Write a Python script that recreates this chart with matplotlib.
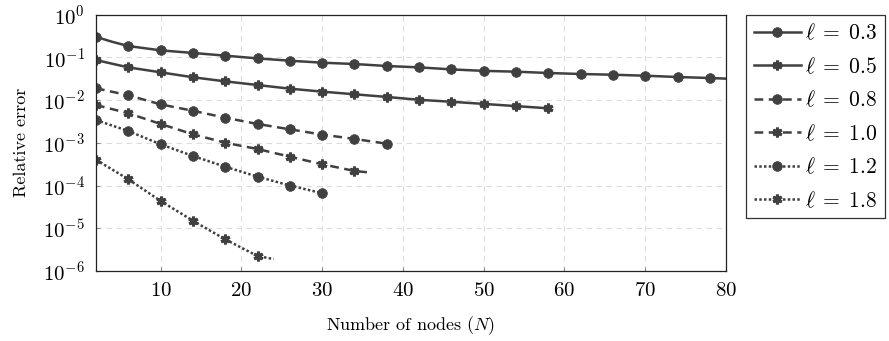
import matplotlib
matplotlib.use("Agg")
import matplotlib.pyplot as plt

plt.rcParams['font.family'] = 'serif'
plt.rcParams['font.serif'] = ['cmr10']
plt.rcParams['mathtext.fontset'] = 'cm'
plt.rcParams['axes.formatter.use_mathtext'] = True

# data (N, relative error)
N_03 = [2, 4, 6, 10, 14, 18, 22, 26, 30, 34, 38, 42, 46, 50, 54, 58, 62, 66, 70, 74, 78, 80]
E_03 = [0.30, 0.23, 0.183, 0.145, 0.126, 0.109, 0.094, 0.083, 0.0746, 0.0695, 0.0624, 0.058,
        0.052, 0.048, 0.046, 0.0428, 0.0406, 0.039, 0.037, 0.0345, 0.0327, 0.0316]
N_05 = [2, 6, 10, 14, 18, 22, 26, 30, 34, 38, 42, 46, 50, 54, 58]
E_05 = [0.086, 0.058, 0.0444, 0.034, 0.0273, 0.0224, 0.0184, 0.0157, 0.0136, 0.0118, 0.0101,
        0.0091, 0.0081, 0.0072, 0.0064]
N_08 = [2, 6, 10, 14, 18, 22, 26, 30, 34, 38]
E_08 = [0.0188, 0.0129, 0.0079, 0.0056, 0.00385, 0.00275, 0.00206, 0.00155, 0.00123, 0.00095]
N_10 = [2, 6, 10, 14, 18, 22, 26, 30, 34, 36]
E_10 = [0.00764, 0.0049, 0.00275, 0.00158, 0.0010, 0.000714, 0.000472, 0.000314, 0.000219, 0.0002]
N_12 = [2, 6, 10, 14, 18, 22, 26, 30]
E_12 = [0.0034, 0.00188, 0.00092, 0.00049, 0.000275, 0.000161, 0.0001, 6.6e-5]
N_18 = [2, 6, 10, 14, 18, 22, 24]
E_18 = [0.0004, 0.00014, 4.35e-5, 1.5e-5, 5.5e-6, 2.24e-6, 1.9e-6]

labels = [r'$\ell\;=\;0.3$', r'$\ell\;=\;0.5$', r'$\ell\;=\;0.8$',
          r'$\ell\;=\;1.0$', r'$\ell\;=\;1.2$', r'$\ell\;=\;1.8$']

col = '#404040'
fig = plt.figure(figsize=(8.89, 3.41), dpi=100)
ax = fig.add_axes([96/889, 1-271/341, (726-96)/889, (271-14.5)/341])

star = (6, 2, 0)
series = [
    (N_03, E_03, '-', 'o', [0] + list(range(2, 21))),
    (N_05, E_05, '-', star, None),
    (N_08, E_08, (0, (3.5, 2.2)), 'o', None),
    (N_10, E_10, (0, (3.5, 2.2)), star, list(range(0, 9))),
    (N_12, E_12, (0, (1, 0.9)), 'o', None),
    (N_18, E_18, (0, (1, 0.9)), star, list(range(0, 6))),
]
for (x, y, ls, mk, me), lab in zip(series, labels):
    if mk == 'o':
        ax.plot(x, y, linestyle=ls, marker=mk, markevery=me, color=col, lw=1.8,
                markersize=7, label=lab, markeredgewidth=0.5)
    else:
        ax.plot(x, y, linestyle=ls, marker=mk, markevery=me, color=col, lw=1.8,
                markersize=7, label=lab, markeredgewidth=2.2)

ax.set_yscale('log')
ax.set_xlim(2, 80)
ax.set_ylim(1e-6, 1)
ax.set_xticks([10, 20, 30, 40, 50, 60, 70, 80])
ax.set_yticks([1e-6, 1e-5, 1e-4, 1e-3, 1e-2, 1e-1, 1])
ax.minorticks_off()
ax.grid(True, color='#dddddd', linestyle=(0, (5, 4)), linewidth=0.8)
ax.set_axisbelow(True)
ax.tick_params(direction='in', length=3, color='#888888', labelsize=15, pad=8)
for s in ax.spines.values():
    s.set_linewidth(0.9)
    s.set_color('#222222')
ax.set_xlabel('Number of nodes ($N$)', fontsize=13, labelpad=10)
ax.set_ylabel('Relative error', fontsize=13, labelpad=10)

leg = fig.legend(loc='upper left', bbox_to_anchor=(746/889, 1-15/341), fontsize=15.5,
                 frameon=True, fancybox=False, edgecolor='black', handlelength=2.2,
                 handletextpad=0.2, labelspacing=0.6, borderpad=0.35, borderaxespad=0)
leg.get_frame().set_linewidth(0.9)

fig.savefig('out.png', dpi=100)
